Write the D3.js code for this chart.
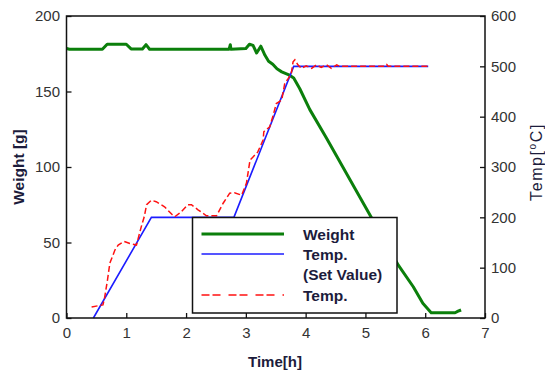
<!DOCTYPE html>
<html>
<head>
<meta charset="utf-8">
<script src="https://cdn.jsdelivr.net/npm/d3@7"></script>
<style>
  body { margin: 0; background: #fff; }
  svg { display: block; font-family: Arial, "Liberation Sans", sans-serif; }
</style>
</head>
<body>
<svg id="chart"></svg>
<script>
// weight [g] vs time [h]
const weightTime = [0, 0.05, 0.6, 0.68, 1.0, 1.08, 1.27, 1.33, 1.39, 2.72, 2.74, 2.75, 3.0, 3.06, 3.12, 3.18, 3.25, 3.32, 3.38, 3.45, 3.52, 3.6, 3.72, 3.8, 3.9, 4.07, 4.35, 5.0, 5.55, 5.8, 5.96, 6.1, 6.5, 6.55, 6.6];
const weightValue = [178.5, 178, 178, 181.3, 181.3, 178.2, 178.2, 181, 178, 178, 181, 178, 178.5, 181.3, 180.5, 175.5, 180, 174, 170, 168, 165, 163, 161, 159, 152, 138, 119, 73.5, 35, 20.7, 9.7, 3.5, 3.5, 4.5, 5.3];

// temperature set value [°C]
const setTime = [0.45, 1.42, 2.8, 3.8, 6.05];
const setTemp = [0, 200, 200, 500, 500];

// measured temperature [°C]
const measTime = [0.42, 0.61, 0.64, 0.685, 0.725, 0.81, 0.865, 0.965, 1.06, 1.17, 1.25, 1.3, 1.34, 1.42, 1.5, 1.64, 1.77, 1.81, 1.91, 2.03, 2.09, 2.2, 2.34, 2.51, 2.62, 2.73, 2.81, 2.93, 3.01, 3.07, 3.12, 3.2, 3.29, 3.3, 3.4, 3.45, 3.51, 3.6, 3.65, 3.71, 3.76, 3.79, 3.82, 3.87, 3.93, 4.01, 4.1, 4.18, 4.26, 4.35, 4.43, 4.52, 4.57, 5.35, 5.36, 5.38, 6.05];
const measTemp = [22, 26, 42, 75, 109, 135, 145, 152, 148, 145, 181, 201, 225, 234, 231, 221, 205, 201, 210, 225, 225, 215, 203, 203, 228, 248, 249, 244, 268, 314, 320, 330, 354, 370, 380, 400, 426, 433, 466, 476, 486, 509, 513, 503, 496, 501, 496, 503, 498, 503, 496, 503, 500, 500, 503, 500, 500];

const xTicks = [0, 1, 2, 3, 4, 5, 6, 7];
const weightTicks = [0, 50, 100, 150, 200];
const tempTicks = [0, 100, 200, 300, 400, 500, 600];

const legendItems = [
  { label: ["Weight"], color: "#0b7f0b", width: 3, dash: null },
  { label: ["Temp.", "(Set Value)"], color: "#1c1cff", width: 1.5, dash: null },
  { label: ["Temp."], color: "#ff1010", width: 1.5, dash: "8,3,8,8" }
];

const width = 545, height = 372;
const margin = { top: 16, right: 60, bottom: 54, left: 66.5 };

const svg = d3.select("#chart").attr("width", width).attr("height", height);

const x = d3.scaleLinear().domain([0, 7]).range([margin.left, width - margin.right]);
const yW = d3.scaleLinear().domain([0, 200]).range([height - margin.bottom, margin.top]);
const yT = d3.scaleLinear().domain([0, 600]).range([height - margin.bottom, margin.top]);

const lineW = d3.line().x(d => x(d[0])).y(d => yW(d[1]));
const lineT = d3.line().x(d => x(d[0])).y(d => yT(d[1]));

svg.append("path")
  .datum(weightTime.map((t, i) => [t, weightValue[i]]))
  .attr("d", lineW)
  .attr("fill", "none")
  .attr("stroke", legendItems[0].color)
  .attr("stroke-width", 3)
  .attr("stroke-linejoin", "round");

svg.append("path")
  .datum(setTime.map((t, i) => [t, setTemp[i]]))
  .attr("d", lineT)
  .attr("fill", "none")
  .attr("stroke", legendItems[1].color)
  .attr("stroke-width", 1.6);

svg.append("path")
  .datum(measTime.map((t, i) => [t, measTemp[i]]))
  .attr("d", lineT)
  .attr("fill", "none")
  .attr("stroke", legendItems[2].color)
  .attr("stroke-width", 1.5)
  .attr("stroke-dasharray", "6,3");

// legend (white box over the lines)
const lg = svg.append("g").attr("transform", "translate(192.5,217.5)");
lg.append("rect")
  .attr("width", 204.5).attr("height", 95.5)
  .attr("fill", "#fff").attr("stroke", "#111").attr("stroke-width", 1.5);

const rowY = [16.5, 36.5, 77.5];
legendItems.forEach((item, i) => {
  lg.append("line")
    .attr("x1", 9).attr("x2", 91.5)
    .attr("y1", rowY[i]).attr("y2", rowY[i])
    .attr("stroke", item.color)
    .attr("stroke-width", item.width)
    .attr("stroke-dasharray", item.dash);
  item.label.forEach((txt, j) => {
    lg.append("text")
      .attr("x", 110.5)
      .attr("y", rowY[i] + 5.5 + j * 20.5)
      .attr("font-size", 15.5)
      .attr("font-weight", "bold")
      .attr("fill", "#1c1c3c")
      .text(txt);
  });
});

// axes
const axisStyle = g => {
  g.select(".domain").remove();
  g.selectAll(".tick line").attr("stroke", "#111").attr("stroke-width", 1.3);
  g.selectAll(".tick text").attr("font-size", 15).attr("fill", "#333").attr("font-family", "Arial, 'Liberation Sans', sans-serif");
};

svg.append("g")
  .attr("transform", `translate(${margin.left},0)`)
  .call(d3.axisLeft(yW).tickValues(weightTicks).tickSize(-5).tickPadding(6.5))
  .call(axisStyle);

svg.append("g")
  .attr("transform", `translate(${width - margin.right},0)`)
  .call(d3.axisRight(yT).tickValues(tempTicks).tickSize(-5).tickPadding(6))
  .call(axisStyle);

svg.append("g")
  .attr("transform", `translate(0,${height - margin.bottom})`)
  .call(d3.axisBottom(x).tickValues(xTicks).tickFormat(d3.format("d")).tickSize(-5).tickPadding(9))
  .call(axisStyle);

// frame
svg.append("rect")
  .attr("x", margin.left).attr("y", margin.top)
  .attr("width", width - margin.right - margin.left)
  .attr("height", height - margin.bottom - margin.top)
  .attr("fill", "none").attr("stroke", "#111").attr("stroke-width", 1.5);

// axis titles
svg.append("text")
  .attr("transform", "translate(24,167) rotate(-90)")
  .attr("text-anchor", "middle")
  .attr("font-size", 15.5)
  .attr("font-weight", "bold")
  .attr("fill", "#1c1c3c")
  .text("Weight [g]");

const tt = svg.append("text")
  .attr("transform", "translate(542,162) rotate(-90)")
  .attr("text-anchor", "middle")
  .attr("font-size", 16)
  .attr("letter-spacing", 1.6)
  .attr("fill", "#1c1c3c");
tt.append("tspan").text("Temp[");
tt.append("tspan").attr("font-size", 10).attr("dy", -6).text("o");
tt.append("tspan").attr("dy", 6).text("C]");

svg.append("text")
  .attr("x", 275).attr("y", 367)
  .attr("text-anchor", "middle")
  .attr("font-size", 15)
  .attr("font-weight", "bold")
  .attr("fill", "#1c1c3c")
  .text("Time[h]");
</script>
</body>
</html>
